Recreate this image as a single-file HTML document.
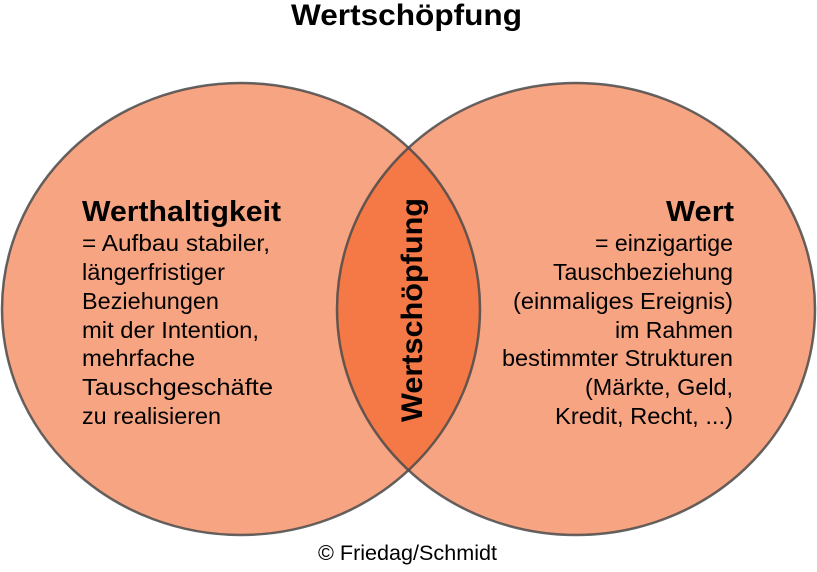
<!DOCTYPE html>
<html><head><meta charset="utf-8"><style>
html,body{margin:0;padding:0;background:#fff;}
body{width:817px;height:567px;overflow:hidden;}
text{font-family:"Liberation Sans",Arial,sans-serif;fill:#000;}
</style></head><body>
<svg width="817" height="567" viewBox="0 0 817 567" xmlns="http://www.w3.org/2000/svg">
<defs>
<clipPath id="cl"><ellipse cx="241" cy="309" rx="239" ry="226"/></clipPath>
</defs>
<text x="291" y="25" font-size="30" font-weight="bold" textLength="231" lengthAdjust="spacingAndGlyphs">Wertschöpfung</text>
<ellipse cx="241" cy="309" rx="239" ry="226" fill="#F7A482"/>
<ellipse cx="576" cy="309" rx="239" ry="226" fill="#F7A482"/>
<ellipse cx="576" cy="309" rx="239" ry="226" fill="#F47946" clip-path="url(#cl)"/>
<ellipse cx="241" cy="309" rx="239" ry="226" fill="none" stroke="#4a4a4a" stroke-width="2.5" stroke-opacity="0.85"/>
<ellipse cx="576" cy="309" rx="239" ry="226" fill="none" stroke="#4a4a4a" stroke-width="2.5" stroke-opacity="0.85"/>
<g font-size="23">
<text x="82" y="221" font-size="29" font-weight="bold" textLength="199" lengthAdjust="spacingAndGlyphs">Werthaltigkeit</text>
<text x="82" y="251" textLength="188" lengthAdjust="spacingAndGlyphs">= Aufbau stabiler,</text>
<text x="82" y="280" textLength="143" lengthAdjust="spacingAndGlyphs">längerfristiger</text>
<text x="82" y="309" textLength="137" lengthAdjust="spacingAndGlyphs">Beziehungen</text>
<text x="82" y="338" textLength="177" lengthAdjust="spacingAndGlyphs">mit der Intention,</text>
<text x="82" y="366" textLength="113" lengthAdjust="spacingAndGlyphs">mehrfache</text>
<text x="82" y="395" textLength="191" lengthAdjust="spacingAndGlyphs">Tauschgeschäfte</text>
<text x="82" y="424" textLength="139" lengthAdjust="spacingAndGlyphs">zu realisieren</text>
</g>
<g font-size="23">
<text x="666" y="221" font-size="29" font-weight="bold" textLength="68" lengthAdjust="spacingAndGlyphs">Wert</text>
<text x="595" y="251" textLength="138" lengthAdjust="spacingAndGlyphs">= einzigartige</text>
<text x="553" y="280" textLength="180" lengthAdjust="spacingAndGlyphs">Tauschbeziehung</text>
<text x="513" y="309" textLength="220" lengthAdjust="spacingAndGlyphs">(einmaliges Ereignis)</text>
<text x="615" y="338" textLength="118" lengthAdjust="spacingAndGlyphs">im Rahmen</text>
<text x="502" y="366" textLength="231" lengthAdjust="spacingAndGlyphs">bestimmter Strukturen</text>
<text x="585" y="395" textLength="148" lengthAdjust="spacingAndGlyphs">(Märkte, Geld,</text>
<text x="555" y="424" textLength="178" lengthAdjust="spacingAndGlyphs">Kredit, Recht, ...)</text>
</g>
<text transform="translate(422,422) rotate(-90)" font-size="30" font-weight="bold" textLength="224" lengthAdjust="spacingAndGlyphs">Wertschöpfung</text>
<text x="318" y="560" font-size="21" textLength="179" lengthAdjust="spacingAndGlyphs">© Friedag/Schmidt</text>
</svg>
</body></html>
